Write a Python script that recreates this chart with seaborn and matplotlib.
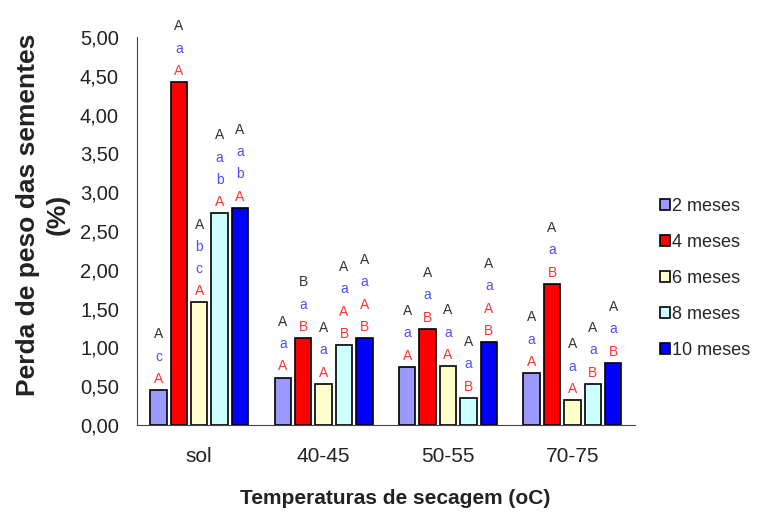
import pandas as pd
import matplotlib
matplotlib.use("Agg")
import matplotlib.pyplot as plt
from matplotlib.ticker import MultipleLocator, FuncFormatter, FixedLocator
import seaborn as sns

# Dados
categorias = ["sol", "40-45", "50-55", "70-75"]
meses = ["2 meses", "4 meses", "6 meses", "8 meses", "10 meses"]

perda_2m = [0.45, 0.61, 0.75, 0.67]
perda_4m = [4.42, 1.12, 1.24, 1.82]
perda_6m = [1.58, 0.53, 0.76, 0.32]
perda_8m = [2.73, 1.03, 0.35, 0.53]
perda_10m = [2.80, 1.12, 1.07, 0.80]

# letras de comparacao (preto = topo, azul = meio, vermelho = base)
letras_preto = [
    ["A", "A", "A", "A"],
    ["A", "B", "A", "A"],
    ["A", "A", "A", "A"],
    ["A", "A", "A", "A"],
    ["A", "A", "A", "A"],
]
letras_azul = [
    ["c", "a", "a", "a"],
    ["a", "a", "a", "a"],
    ["bc", "a", "a", "a"],
    ["ab", "a", "a", "a"],
    ["ab", "a", "a", "a"],
]
letras_verm = [
    ["A", "A", "A", "A"],
    ["A", "B", "B", "B"],
    ["A", "A", "A", "A"],
    ["A", "AB", "B", "B"],
    ["A", "AB", "AB", "B"],
]

cores = ["#9999FF", "#FF0000", "#FFFFCC", "#CCFFFF", "#0000FF"]

valores = [perda_2m, perda_4m, perda_6m, perda_8m, perda_10m]
df = pd.DataFrame({
    "temp": [c for _ in meses for c in categorias],
    "meses": [m for m in meses for _ in categorias],
    "perda": [v for serie in valores for v in serie],
})

sns.set_style("white")
plt.rcParams["font.family"] = ["Liberation Sans", "DejaVu Sans"]

fig = plt.figure(figsize=(7.74, 5.22), dpi=100)
ax = fig.add_axes([0.177, 0.186, 0.643, 0.743])

sns.barplot(data=df, x="temp", y="perda", hue="meses", palette=cores, saturation=1,
            edgecolor="black", linewidth=1.2, width=0.82, gap=0.2,
            errorbar=None, ax=ax)

# letras acima das barras
for i, cont in enumerate(ax.containers):
    for j, bar in enumerate(cont):
        x = bar.get_x() + bar.get_width() / 2
        y = bar.get_height()
        linhas = [(ch, "#333333") for ch in letras_preto[i][j]]
        linhas += [(ch, "#4D4DFF") for ch in letras_azul[i][j]]
        linhas += [(ch, "#FF3333") for ch in letras_verm[i][j]]
        for k, (ch, cor) in enumerate(reversed(linhas)):
            ax.annotate(ch, (x, y), xytext=(0, 3 + 16 * k), textcoords="offset points",
                        ha="center", va="bottom", fontsize=10, color=cor,
                        annotation_clip=False)

ax.set_ylim(0, 5)
ax.set_xlim(-0.5, 3.5)
ax.yaxis.set_major_locator(MultipleLocator(0.5))
ax.yaxis.set_minor_locator(MultipleLocator(0.05))
ax.yaxis.set_major_formatter(FuncFormatter(lambda v, _: f"{v:.2f}".replace(".", ",")))
ax.tick_params(axis="y", which="major", direction="out", length=6, width=0.8,
               labelsize=14.5, pad=7, color="#444444", labelcolor="#222222")
ax.tick_params(axis="y", which="minor", direction="out", length=3, width=0.6, color="#444444")
ax.xaxis.set_minor_locator(FixedLocator([-0.5, 0.5, 1.5, 2.5, 3.5]))
ax.tick_params(axis="x", which="major", length=0, labelsize=15, pad=16, labelcolor="#222222")
ax.tick_params(axis="x", which="minor", direction="out", length=4, width=0.8, color="#444444")

for s in ["top", "right"]:
    ax.spines[s].set_visible(False)
for s in ["left", "bottom"]:
    ax.spines[s].set_color("#444444")
    ax.spines[s].set_linewidth(0.8)

ax.set_xlabel("Temperaturas de secagem (oC)", fontsize=15, fontweight="bold",
              labelpad=18, color="#222222")
ax.xaxis.set_label_coords(0.518, -0.165)
ax.set_ylabel("Perda de peso das sementes\n(%)", fontsize=19, fontweight="bold",
              linespacing=1.3, color="#222222")
ax.yaxis.set_label_coords(-0.135, 0.542)

ax.legend(loc="center left", bbox_to_anchor=(0.843, 0.467), bbox_transform=fig.transFigure,
          frameon=False, fontsize=13, handlelength=0.55, handleheight=0.55,
          handletextpad=0.15, labelspacing=1.05, borderaxespad=0)

fig.savefig("out.png", dpi=100)
